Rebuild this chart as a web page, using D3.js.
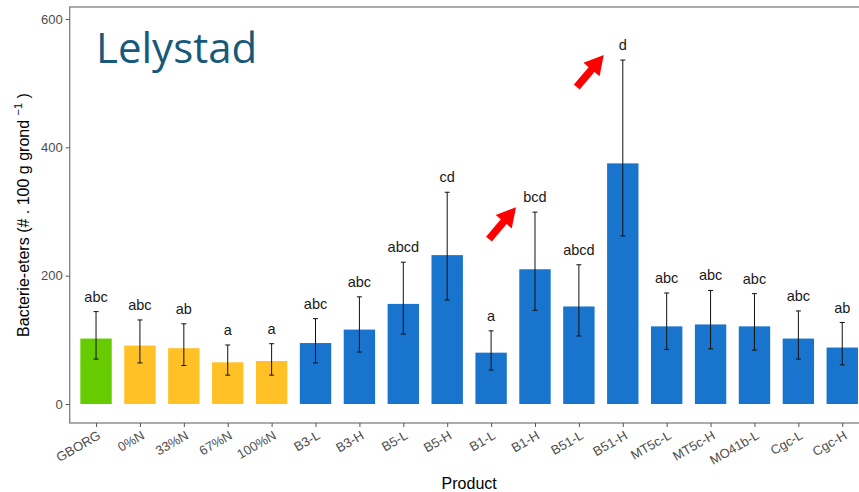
<!DOCTYPE html>
<html>
<head>
<meta charset="utf-8">
<script src="https://cdn.jsdelivr.net/npm/d3@7"></script>
<style>
  html, body { margin: 0; padding: 0; background: #fff; }
  svg { display: block; font-family: "Liberation Sans", Arial, sans-serif; }
</style>
</head>
<body>
<svg id="chart" width="859" height="492"></svg>
<script>
// Products, grouped by treatment type
const products = ["GBORG", "0%N", "33%N", "67%N", "100%N", "B3-L", "B3-H", "B5-L", "B5-H",
  "B1-L", "B1-H", "B51-L", "B51-H", "MT5c-L", "MT5c-H", "MO41b-L", "Cgc-L", "Cgc-H"];
const groups = ["org", "min", "min", "min", "min", "bio", "bio", "bio", "bio",
  "bio", "bio", "bio", "bio", "bio", "bio", "bio", "bio", "bio"];
// Mean bacterivore counts and error bar limits
const means = [102, 91, 87, 65, 67, 95, 116, 156, 232, 80, 210, 152, 375, 121, 124, 121, 102, 88];
const lower = [70, 64, 60, 45, 45, 64, 81, 109, 162, 53, 146, 106, 262, 85, 86, 84, 70, 61];
const upper = [144, 131, 125, 92, 94, 133, 167, 221, 330, 114, 299, 217, 536, 173, 177, 172, 145, 127];
// Significance letters
const letters = ["abc", "abc", "ab", "a", "a", "abc", "abc", "abcd", "cd",
  "a", "bcd", "abcd", "d", "abc", "abc", "abc", "abc", "ab"];
const yTicks = [0, 200, 400, 600];
// Products highlighted with an arrow
const highlighted = ["B1-H", "B51-H"];

const colors = { org: "#66CC00", min: "#FFC125", bio: "#1874CD" };

const svg = d3.select("#chart");
const panel = { left: 69.7, top: 7, right: 868.6, bottom: 423 };

const x = d3.scalePoint().domain(products).range([panel.left, panel.right]).padding(0.6);
const y = d3.scaleLinear().domain([-29.6, 618.7]).range([panel.bottom, panel.top]);
const barW = x.step() * 0.715;

const data = products.map((p, i) => ({
  p, g: groups[i], m: means[i], lo: lower[i], hi: upper[i], l: letters[i]
}));

// Panel border
svg.append("rect")
  .attr("x", panel.left).attr("y", panel.top)
  .attr("width", panel.right - panel.left).attr("height", panel.bottom - panel.top)
  .attr("fill", "none").attr("stroke", "#7f7f7f").attr("stroke-width", 1.3);

// Bars
svg.append("g").selectAll("rect").data(data).join("rect")
  .attr("x", d => x(d.p) - barW / 2)
  .attr("y", d => y(d.m))
  .attr("width", barW)
  .attr("height", d => y(0) - y(d.m))
  .attr("fill", d => colors[d.g]);

// Error bars
const eb = svg.append("g").attr("stroke", "#111").attr("stroke-width", 1);
data.forEach(d => {
  const cx = x(d.p);
  eb.append("line").attr("x1", cx).attr("x2", cx).attr("y1", y(d.lo)).attr("y2", y(d.hi));
  eb.append("line").attr("x1", cx - 2.5).attr("x2", cx + 2.5).attr("y1", y(d.hi)).attr("y2", y(d.hi));
  eb.append("line").attr("x1", cx - 2.5).attr("x2", cx + 2.5).attr("y1", y(d.lo)).attr("y2", y(d.lo));
});

// Letters above the error bars
svg.append("g").selectAll("text").data(data).join("text")
  .attr("x", d => x(d.p))
  .attr("y", d => y(d.hi) - 10)
  .attr("text-anchor", "middle")
  .attr("font-size", 14.5)
  .attr("fill", "#1a1a1a")
  .text(d => d.l);

// Y axis
const yAxis = svg.append("g").attr("transform", `translate(${panel.left},0)`)
  .call(d3.axisLeft(y).tickValues(yTicks).tickSize(4).tickPadding(3).tickSizeOuter(0));
yAxis.select(".domain").remove();
yAxis.selectAll(".tick line").attr("stroke", "#555");
yAxis.selectAll(".tick text").attr("fill", "#4d4d4d").attr("font-size", 13)
  .attr("font-family", "Liberation Sans, Arial, sans-serif");

// X axis
const xAxis = svg.append("g").attr("transform", `translate(0,${panel.bottom})`)
  .call(d3.axisBottom(x).tickSize(4).tickSizeOuter(0));
xAxis.select(".domain").remove();
xAxis.selectAll(".tick line").attr("stroke", "#555");
xAxis.selectAll(".tick text")
  .attr("fill", "#4d4d4d").attr("font-size", 13)
  .attr("font-family", "Liberation Sans, Arial, sans-serif")
  .attr("text-anchor", "end")
  .attr("dy", null).attr("y", null)
  .attr("transform", "translate(5,15) rotate(-30)");

// Axis titles
svg.append("text")
  .attr("x", (panel.left + panel.right) / 2).attr("y", 489)
  .attr("text-anchor", "middle").attr("font-size", 16).attr("fill", "#000")
  .text("Product");

const yt = svg.append("text")
  .attr("transform", `translate(29,${(panel.top + panel.bottom) / 2}) rotate(-90)`)
  .attr("text-anchor", "middle").attr("font-size", 16).attr("fill", "#000");
yt.append("tspan").text("Bacterie-eters (# . 100 g grond ");
yt.append("tspan").attr("font-size", 11).attr("dy", -7).text("\u22121");
yt.append("tspan").attr("dy", 7).text(" )");

// Location title
svg.append("text")
  .attr("x", 96).attr("y", 63)
  .attr("font-family", "Open Sans, Noto Sans, sans-serif")
  .attr("font-size", 42).attr("fill", "#17597a")
  .text("Lelystad");

// Red arrows pointing at highlighted products
const arrows = svg.append("g").attr("fill", "#ff0000");
highlighted.forEach(p => {
  const d = data.find(e => e.p === p);
  const tipX = x(p) - 19, tipY = y(d.hi) - 5;
  const tailX = tipX - 27, tailY = tipY + 32;
  const ang = Math.atan2(tipY - tailY, tipX - tailX);
  const len = Math.hypot(tipX - tailX, tipY - tailY);
  const headL = 19, headW = 10.5, shaftW = 3.8;
  const pts = [
    [0, -shaftW], [len - headL, -shaftW], [len - headL, -headW],
    [len, 0], [len - headL, headW], [len - headL, shaftW], [0, shaftW]
  ];
  arrows.append("polygon")
    .attr("points", pts.map(q => q.join(",")).join(" "))
    .attr("transform", `translate(${tailX},${tailY}) rotate(${ang * 180 / Math.PI})`);
});
</script>
</body>
</html>
